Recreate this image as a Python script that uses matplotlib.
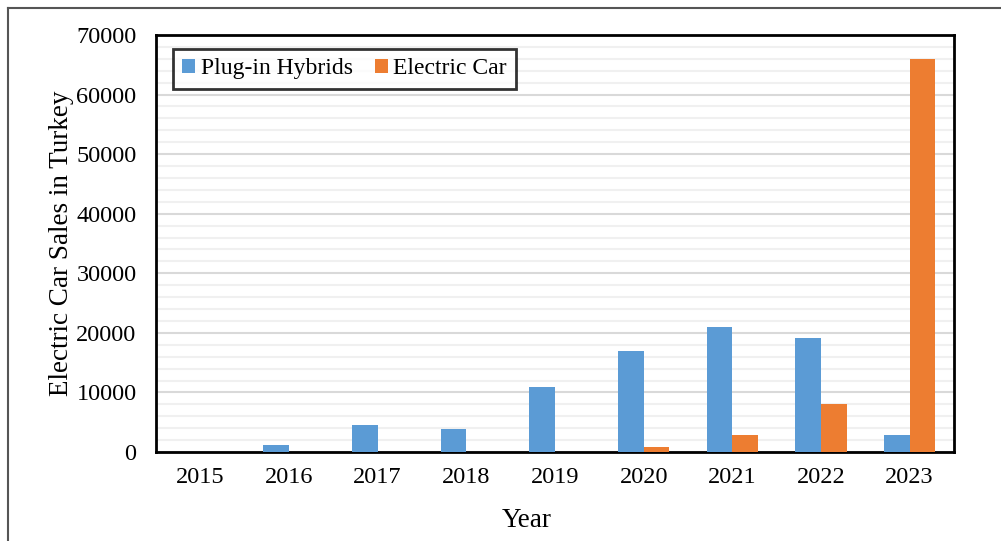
import matplotlib
matplotlib.use("Agg")
import matplotlib.pyplot as plt
import numpy as np
from matplotlib.lines import Line2D
from matplotlib.ticker import MultipleLocator

years = ["2015", "2016", "2017", "2018", "2019", "2020", "2021", "2022", "2023"]
plug_in_hybrids = [50, 1100, 4500, 3900, 10900, 17000, 20900, 19200, 2800]
electric_car = [10, 30, 40, 40, 50, 850, 2900, 8100, 65900]

plt.rcParams['font.family'] = ['Liberation Serif', 'DejaVu Serif']

fig = plt.figure(figsize=(10.01, 5.41), dpi=100)
ax = fig.add_axes([156/1001, 89/541, 798/1001, 417/541])

x = np.arange(len(years))
w = 0.29
ax.bar(x - w/2, plug_in_hybrids, width=w, color='#5B9BD5', label='Plug-in Hybrids', zorder=3)
ax.bar(x + w/2, electric_car, width=w, color='#ED7D31', label='Electric Car', zorder=3)

ax.set_xlim(-0.5, len(years) - 0.5)
ax.set_ylim(0, 70000)
ax.yaxis.set_major_locator(MultipleLocator(10000))
ax.yaxis.set_minor_locator(MultipleLocator(2000))
ax.grid(axis='y', which='minor', color='#F0F0F0', linewidth=1.5, zorder=0)
ax.grid(axis='y', which='major', color='#D9D9D9', linewidth=1.5, zorder=1)
ax.set_axisbelow(True)

ax.set_xticks(x)
ax.set_xticklabels(years)
ax.tick_params(axis='both', which='both', length=0, labelsize=17.5)
ax.tick_params(axis='x', pad=11)
ax.tick_params(axis='y', pad=14)

for s in ax.spines.values():
    s.set_linewidth(2)
    s.set_color('black')

ax.set_xlabel('Year', fontsize=19.5)
ax.xaxis.set_label_coords((527 - 156) / 798, -(533 - 452) / 417, transform=ax.transAxes)
ax.xaxis.label.set_va('bottom')
ax.set_ylabel('Electric Car Sales in Turkey', fontsize=19.5)
ax.yaxis.set_label_coords(-(156 - 74) / 798, 0.5, transform=ax.transAxes)
ax.yaxis.label.set_va('bottom')

leg = ax.legend(loc='upper left', bbox_to_anchor=(17/798, 1 - 14/417), ncol=2, frameon=True,
                fancybox=False, edgecolor='black', fontsize=17, handlelength=0.55,
                handleheight=0.55, handletextpad=0.25, columnspacing=0.9,
                borderpad=0.4, borderaxespad=0)
leg.get_frame().set_linewidth(2)

# outer frame (left and top edges)
fig.add_artist(Line2D([8/1001, 8/1001], [0, 1 - 8/541], transform=fig.transFigure, color='#555555', linewidth=1.5))
fig.add_artist(Line2D([8/1001, 1], [1 - 8/541, 1 - 8/541], transform=fig.transFigure, color='#555555', linewidth=1.5))

fig.savefig('out.png', dpi=100)
